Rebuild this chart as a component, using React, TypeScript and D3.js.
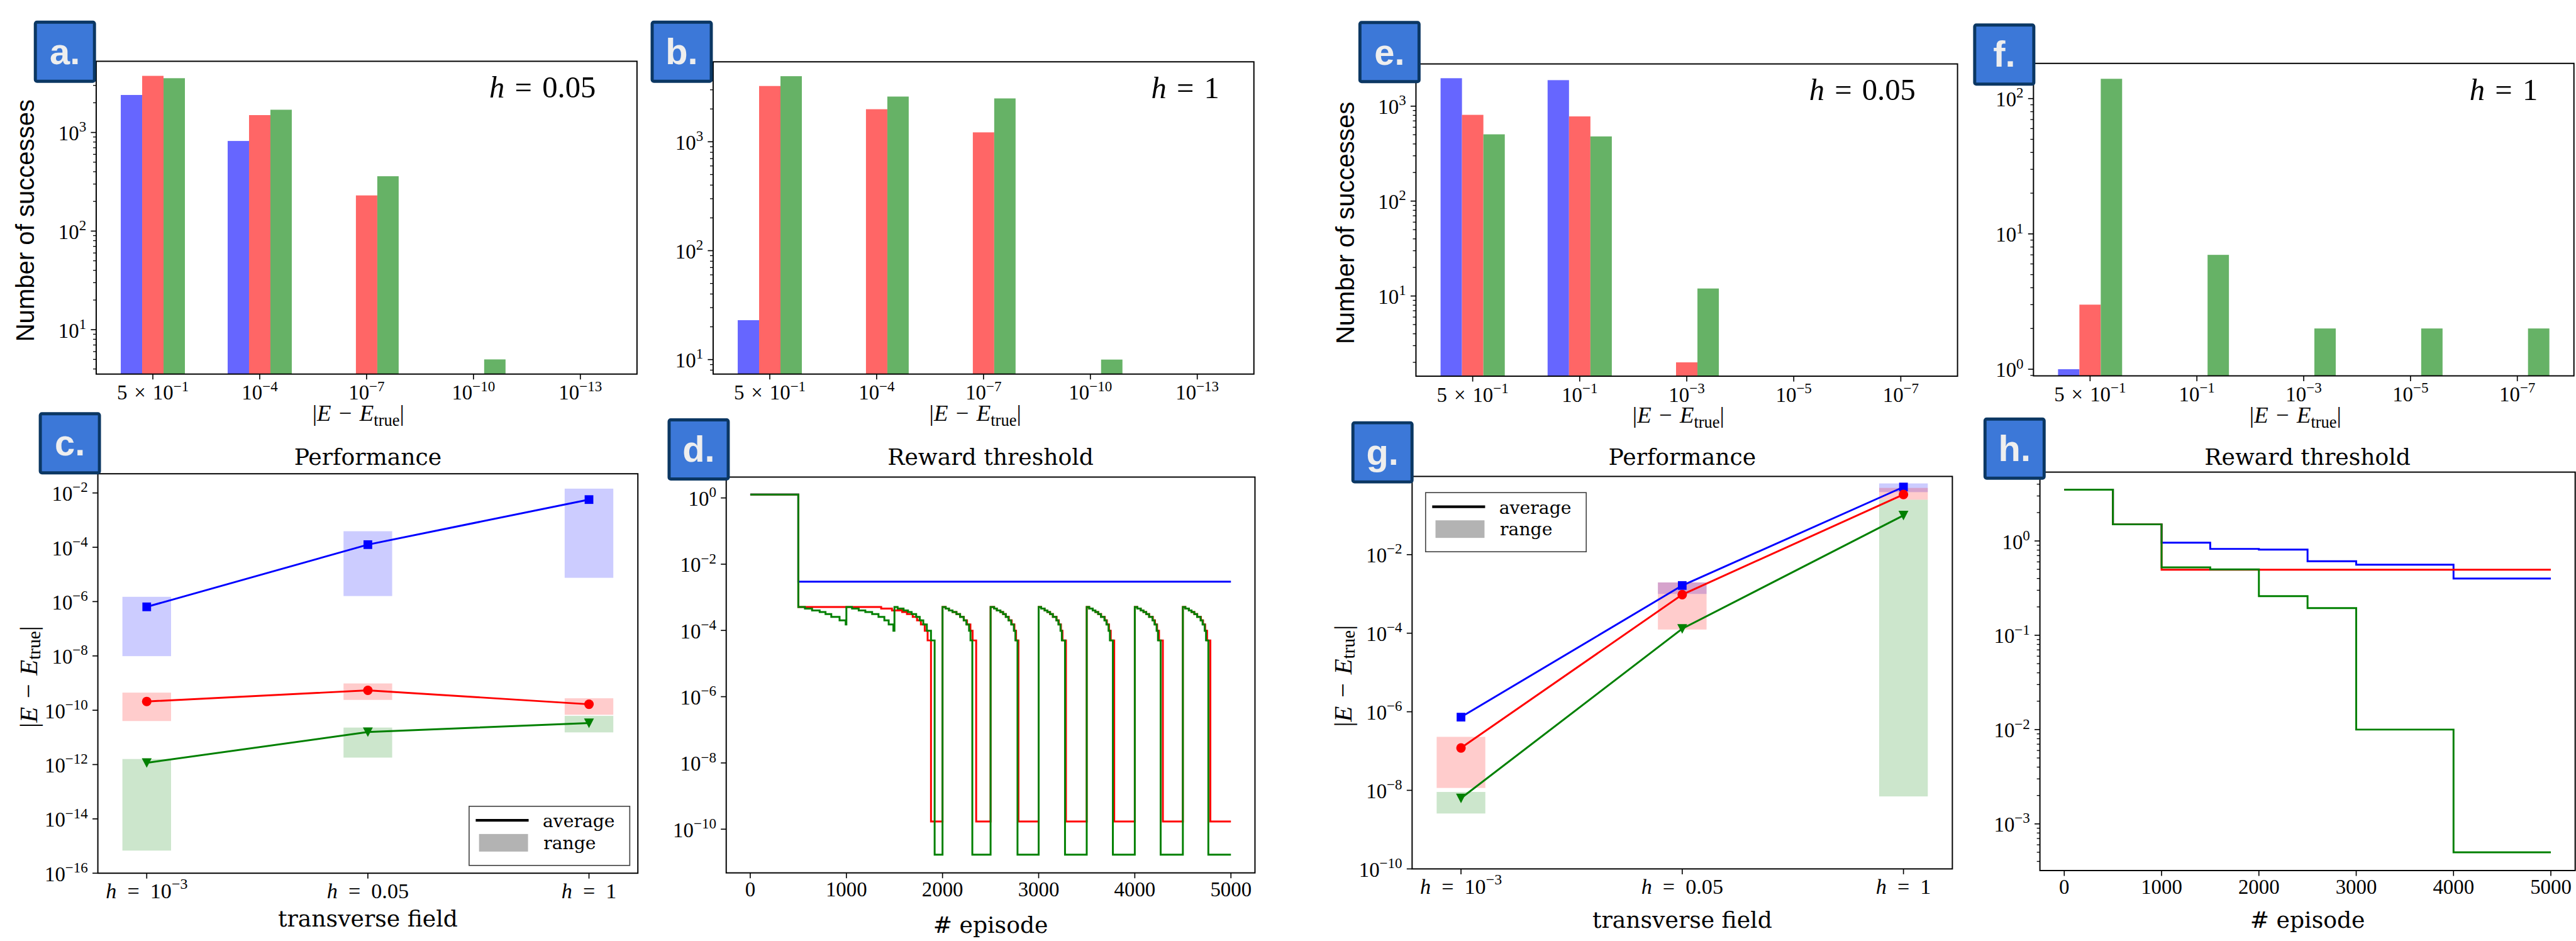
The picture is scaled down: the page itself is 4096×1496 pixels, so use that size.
import React from 'react';
import * as d3 from 'd3';

// ---------------- data ----------------
const histTickPrefixes = ['5\u2004×\u2004', '', '', '', ''];
const histExpsAB = ['−1', '−4', '−7', '−10', '−13'];
const histExpsEF = ['−1', '−1', '−3', '−5', '−7'];

const aBlue = [2400, 820, 0, 0, 0];
const aRed = [3750, 1500, 230, 0, 0];
const aGreen = [3550, 1700, 360, 5, 0];
const bBlue = [23, 0, 0, 0, 0];
const bRed = [3250, 1990, 1220, 0, 0];
const bGreen = [4000, 2600, 2500, 10, 0];
const eBlue = [1970, 1880, 0, 0, 0];
const eRed = [810, 780, 2, 0, 0];
const eGreen = [505, 480, 12, 0, 0];
const fBlue = [1, 0, 0, 0, 0];
const fRed = [3, 0, 0, 0, 0];
const fGreen = [140, 7, 2, 2, 2];

const perfTickBase = ['10', '0.05', '1'];
const perfTickExp = ['−3', '', ''];

const cBlueAvg = [6.4e-7, 1.25e-4, 5.7e-3];
const cBlueMin = [9.8e-9, 1.6e-6, 7.5e-6];
const cBlueMax = [1.5e-6, 3.9e-4, 1.44e-2];
const cRedAvg = [2.1e-10, 5.4e-10, 1.66e-10];
const cRedMin = [4.0e-11, 2.4e-10, 6.8e-11];
const cRedMax = [4.45e-10, 9.7e-10, 2.76e-10];
const cGreenAvg = [1.16e-12, 1.58e-11, 3.37e-11];
const cGreenMin = [6.8e-16, 1.8e-12, 1.53e-11];
const cGreenMax = [1.6e-12, 2.3e-11, 6.2e-11];

const gBlueAvg = [7.3e-7, 1.64e-3, 0.527];
const gBlueMin = [7.3e-7, 1.0e-3, 0.39];
const gBlueMax = [7.3e-7, 1.96e-3, 0.65];
const gRedAvg = [1.2e-7, 9.6e-4, 0.34];
const gRedMin = [1.15e-8, 1.24e-4, 0.25];
const gRedMax = [2.3e-7, 1.96e-3, 0.5];
const gGreenAvg = [6.3e-9, 1.3e-4, 0.1];
const gGreenMin = [2.57e-9, 1.3e-4, 7.0e-9];
const gGreenMax = [9.1e-9, 1.3e-4, 0.25];

const episodeTicks = [0, 1000, 2000, 3000, 4000, 5000];

const dBlue = [[0, 1.26], [500, 2.95e-3], [5000, 2.95e-3]];
const dRed = [
  [0, 1.26], [500, 5.12e-4], [1362, 4.56e-4], [1474, 4.02e-4], [1580, 3.58e-4], [1630, 3.13e-4], [1690, 2.56e-4], [1735, 2.02e-4], [1775, 1.51e-4], [1815, 9.8e-5], [1845, 5.0e-5], [1880, 1.7e-10],
  [2000, 5.12e-4], [2033, 4.56e-4], [2067, 4.02e-4], [2104, 3.58e-4], [2145, 3.13e-4], [2183, 2.56e-4], [2222, 2.02e-4], [2255, 1.51e-4], [2290, 9.8e-5], [2313, 5.0e-5], [2350, 1.7e-10],
  [2500, 5.12e-4], [2537, 4.56e-4], [2565, 4.02e-4], [2602, 3.58e-4], [2630, 3.13e-4], [2658, 2.56e-4], [2690, 2.02e-4], [2720, 1.51e-4], [2748, 9.8e-5], [2765, 5.0e-5], [2790, 1.7e-10],
  [3000, 5.12e-4], [3026, 4.56e-4], [3062, 4.02e-4], [3090, 3.58e-4], [3119, 3.13e-4], [3148, 2.56e-4], [3187, 2.02e-4], [3210, 1.51e-4], [3232, 9.8e-5], [3248, 5.0e-5], [3284, 1.7e-10],
  [3500, 5.12e-4], [3526, 4.56e-4], [3562, 4.02e-4], [3590, 3.58e-4], [3619, 3.13e-4], [3650, 2.56e-4], [3688, 2.02e-4], [3710, 1.51e-4], [3732, 9.8e-5], [3750, 5.0e-5], [3786, 1.7e-10],
  [4000, 5.12e-4], [4026, 4.56e-4], [4062, 4.02e-4], [4090, 3.58e-4], [4119, 3.13e-4], [4150, 2.56e-4], [4188, 2.02e-4], [4210, 1.51e-4], [4232, 9.8e-5], [4252, 5.0e-5], [4292, 1.7e-10],
  [4500, 5.12e-4], [4526, 4.56e-4], [4562, 4.02e-4], [4590, 3.58e-4], [4619, 3.13e-4], [4650, 2.56e-4], [4688, 2.02e-4], [4710, 1.51e-4], [4732, 9.8e-5], [4752, 5.0e-5], [4786, 1.7e-10],
  [5000, 1.7e-10],
];
const dGreen = [
  [0, 1.26], [500, 5.12e-4], [569, 4.56e-4], [643, 4.02e-4], [722, 3.58e-4], [783, 3.13e-4], [843, 2.56e-4], [929, 2.02e-4], [993, 1.51e-4],
  [1000, 5.12e-4], [1059, 4.56e-4], [1128, 4.02e-4], [1197, 3.58e-4], [1268, 3.13e-4], [1334, 2.56e-4], [1395, 2.02e-4], [1440, 1.51e-4], [1489, 9.8e-5],
  [1500, 5.12e-4], [1533, 4.56e-4], [1595, 4.02e-4], [1641, 3.58e-4], [1679, 3.13e-4], [1726, 2.56e-4], [1763, 2.02e-4], [1800, 1.51e-4], [1837, 9.8e-5], [1880, 5.0e-5], [1918, 1.7e-11],
  [2000, 5.12e-4], [2033, 4.56e-4], [2067, 4.02e-4], [2104, 3.58e-4], [2145, 3.13e-4], [2183, 2.56e-4], [2220, 2.02e-4], [2248, 1.51e-4], [2276, 9.8e-5], [2291, 5.0e-5], [2310, 1.7e-11],
  [2500, 5.12e-4], [2537, 4.56e-4], [2565, 4.02e-4], [2602, 3.58e-4], [2630, 3.13e-4], [2658, 2.56e-4], [2686, 2.02e-4], [2714, 1.51e-4], [2742, 9.8e-5], [2758, 5.0e-5], [2780, 1.7e-11],
  [3000, 5.12e-4], [3026, 4.56e-4], [3062, 4.02e-4], [3090, 3.58e-4], [3119, 3.13e-4], [3148, 2.56e-4], [3184, 2.02e-4], [3205, 1.51e-4], [3227, 9.8e-5], [3241, 5.0e-5], [3274, 1.7e-11],
  [3500, 5.12e-4], [3526, 4.56e-4], [3562, 4.02e-4], [3590, 3.58e-4], [3619, 3.13e-4], [3648, 2.56e-4], [3684, 2.02e-4], [3705, 1.51e-4], [3727, 9.8e-5], [3741, 5.0e-5], [3772, 1.7e-11],
  [4000, 5.12e-4], [4026, 4.56e-4], [4062, 4.02e-4], [4090, 3.58e-4], [4119, 3.13e-4], [4148, 2.56e-4], [4184, 2.02e-4], [4205, 1.51e-4], [4227, 9.8e-5], [4241, 5.0e-5], [4269, 1.7e-11],
  [4500, 5.12e-4], [4526, 4.56e-4], [4562, 4.02e-4], [4590, 3.58e-4], [4619, 3.13e-4], [4648, 2.56e-4], [4684, 2.02e-4], [4705, 1.51e-4], [4727, 9.8e-5], [4741, 5.0e-5], [4765, 1.7e-11],
  [5000, 1.7e-11],
];

const hBlue = [[0, 3.5], [500, 1.5], [1000, 0.96], [1500, 0.824], [2000, 0.81], [2500, 0.61], [3000, 0.56], [4000, 0.4], [5000, 0.4]];
const hRed = [[0, 3.5], [500, 1.5], [1000, 0.495], [5000, 0.495]];
const hGreen = [[0, 3.5], [500, 1.5], [1000, 0.525], [1500, 0.5], [2000, 0.26], [2500, 0.194], [3000, 0.01], [4000, 5.0e-4], [5000, 5.0e-4]];

const histColors = ['#6666ff', '#ff6666', '#66b266'];
const lineColors = ['#0000ff', '#ff0000', '#008000'];

// ---------------- styling ----------------
const SERIF = "'Liberation Serif', 'DejaVu Serif', serif";
const TSERIF = "'DejaVu Serif', serif";
const SANS = "'Liberation Sans', Arial, sans-serif";
const FS = 50;
const AXW = 3;

function expStr(k: number) {
  return k < 0 ? '−' + Math.abs(k) : String(k);
}

function Sup({ exp, fs }: any) {
  return exp ? <tspan dy={-0.42 * fs} fontSize={0.7 * fs}>{exp}</tspan> : null;
}

function EAbs({ fs }: any) {
  return (
    <>
      <tspan>|</tspan>
      <tspan fontStyle="italic">E</tspan>
      <tspan>{'\u2004−\u2004'}</tspan>
      <tspan fontStyle="italic">E</tspan>
      <tspan fontSize={0.72 * fs} dy={0.22 * fs}>true</tspan>
      <tspan dy={-0.22 * fs}>|</tspan>
    </>
  );
}

function LogY({ y, x0, majors, minors }: any) {
  return (
    <g>
      {minors.map((v: number, i: number) => (
        <line key={'m' + i} x1={x0 - 7.5} x2={x0} y1={y(v)} y2={y(v)} stroke="#000" strokeWidth={2} />
      ))}
      {majors.map((k: number) => (
        <g key={k}>
          <line x1={x0 - 13} x2={x0} y1={y(10 ** k)} y2={y(10 ** k)} stroke="#000" strokeWidth={2.5} />
          <text x={x0 - 24} y={y(10 ** k) + 0.38 * FS} textAnchor="end" fontFamily={SERIF} fontSize={FS}>
            10<Sup exp={expStr(k)} fs={FS} />
          </text>
        </g>
      ))}
    </g>
  );
}

function logTicks(ylim: number[], every: number, withMinor: boolean) {
  const lg0 = Math.log10(ylim[0]);
  const lg1 = Math.log10(ylim[1]);
  const majors = d3.range(Math.ceil(lg0), Math.floor(lg1) + 1).filter((k) => ((k % every) + every) % every === 0);
  const minors: number[] = [];
  if (withMinor) {
    for (let k = Math.floor(lg0); k <= Math.floor(lg1); k++) {
      for (let m = 2; m <= 9; m++) {
        const v = m * 10 ** k;
        if (v > ylim[0] && v < ylim[1]) minors.push(v);
      }
    }
  }
  return { majors, minors };
}

function Frame({ l, t, r, b }: any) {
  return <rect x={l} y={t} width={r - l} height={b - t} fill="none" stroke="#000" strokeWidth={AXW} />;
}

function Hist({ frame, ylim, series, exps, annot, annotFx, ylabel }: any) {
  const [l, t, r, b] = frame;
  const x = d3.scaleLinear().domain([-0.53, 4.53]).range([l, r]);
  const y = d3.scaleLog().domain(ylim).range([b, t]);
  const bw = 0.2 * (x(1) - x(0));
  const { majors, minors } = logTicks(ylim, 1, true);
  return (
    <g>
      {series.map((vals: number[], si: number) =>
        vals.map((v, i) =>
          v > 0 ? (
            <rect key={si + '-' + i} x={x(i) + (si - 1.5) * bw} y={y(v)} width={bw} height={b - y(v)} fill={histColors[si]} />
          ) : null
        )
      )}
      <Frame l={l} t={t} r={r} b={b} />
      {exps.map((e: string, i: number) => (
        <g key={i}>
          <line x1={x(i)} x2={x(i)} y1={b} y2={b + 13} stroke="#000" strokeWidth={2.5} />
          <text x={x(i)} y={b + 62} textAnchor="middle" fontFamily={SERIF} fontSize={FS}>
            {histTickPrefixes[i]}10<Sup exp={e} fs={FS} />
          </text>
        </g>
      ))}
      <LogY y={y} x0={l} majors={majors} minors={minors} />
      <text x={(l + r) / 2 - 20} y={b + 113} textAnchor="middle" fontFamily={SERIF} fontSize={56}>
        <EAbs fs={56} />
      </text>
      <text x={l + annotFx * (r - l)} y={t + 88} fontFamily={SERIF} fontSize={74}>
        <tspan fontStyle="italic">h</tspan>
        {'\u2004=\u2004' + annot}
      </text>
      {ylabel ? (
        <text
          transform={`translate(${l - 150},${(t + b) / 2 + 7}) rotate(-90)`}
          textAnchor="middle"
          fontFamily={SANS}
          fontSize={61}
        >
          Number of successes
        </text>
      ) : null}
    </g>
  );
}

function Perf({ frame, ylim, series, legendAt, xlabelY }: any) {
  const [l, t, r, b] = frame;
  const x = d3.scaleLinear().domain([-0.221, 2.221]).range([l, r]);
  const y = d3.scaleLog().domain(ylim).range([b, t]);
  const unit = x(1) - x(0);
  const { majors } = logTicks(ylim, 2, false);
  const line = d3
    .line<number>()
    .x((_d, i) => x(i))
    .y((d) => y(d));
  const [lx, ly] = legendAt;
  return (
    <g>
      {series.map((s: any, si: number) =>
        s.avg.map((_v: number, i: number) =>
          s.max[i] > s.min[i] ? (
            <rect
              key={si + '-' + i}
              x={x(i) - 0.11 * unit}
              width={0.22 * unit}
              y={y(s.max[i])}
              height={y(s.min[i]) - y(s.max[i])}
              fill={s.color}
              fillOpacity={0.2}
            />
          ) : null
        )
      )}
      {series.map((s: any, si: number) => (
        <g key={'l' + si}>
          <path d={line(s.avg) || ''} fill="none" stroke={s.color} strokeWidth={4.5} />
          {s.avg.map((v: number, i: number) => {
            const cx = x(i);
            const cy = y(v);
            if (s.marker === 'square') return <rect key={i} x={cx - 10.5} y={cy - 10.5} width={21} height={21} fill={s.color} />;
            if (s.marker === 'circle') return <circle key={i} cx={cx} cy={cy} r={11.5} fill={s.color} />;
            return <polygon key={i} points={`${cx},${cy + 12} ${cx - 12},${cy - 11} ${cx + 12},${cy - 11}`} fill={s.color} />;
          })}
        </g>
      ))}
      <Frame l={l} t={t} r={r} b={b} />
      {perfTickBase.map((base, i) => (
        <g key={i}>
          <line x1={x(i)} x2={x(i)} y1={b} y2={b + 13} stroke="#000" strokeWidth={2.5} />
          <text x={x(i)} y={b + 60} textAnchor="middle" fontFamily={SERIF} fontSize={52}>
            <tspan fontStyle="italic">h</tspan>
            {'\u2002=\u2002' + base}
            <Sup exp={perfTickExp[i]} fs={52} />
          </text>
        </g>
      ))}
      <LogY y={y} x0={l} majors={majors} minors={[]} />
      <text x={(l + r) / 2} y={1124} textAnchor="middle" fontFamily={TSERIF} fontSize={55}>Performance</text>
      <text x={(l + r) / 2} y={xlabelY} textAnchor="middle" fontFamily={TSERIF} fontSize={55}>transverse field</text>
      <text
        transform={`translate(${l - 168},${(t + b) / 2 + 8}) rotate(-90)`}
        textAnchor="middle"
        dominantBaseline="central"
        fontFamily={SERIF}
        fontSize={62}
      >
        <EAbs fs={62} />
      </text>
      <g>
        <rect x={lx} y={ly} width={388.6} height={143} fill="#fff" stroke="#444" strokeWidth={2.5} />
        <line x1={lx + 16} x2={lx + 144} y1={ly + 34} y2={ly + 34} stroke="#000" strokeWidth={6.5} />
        <rect x={lx + 24} y={ly + 67} width={118.5} height={42.5} fill="#b3b3b3" />
        <text x={lx + 178} y={ly + 51} fontFamily={TSERIF} fontSize={43}>average</text>
        <text x={lx + 180} y={ly + 103} fontFamily={TSERIF} fontSize={43}>range</text>
      </g>
    </g>
  );
}

function Steps({ frame, ylim, series, every, minor, xlabelY }: any) {
  const [l, t, r, b] = frame;
  const x = d3.scaleLinear().domain([-250, 5250]).range([l, r]);
  const y = d3.scaleLog().domain(ylim).range([b, t]);
  const { majors, minors } = logTicks(ylim, every, minor);
  const line = d3
    .line<number[]>()
    .x((d) => x(d[0]))
    .y((d) => y(d[1]))
    .curve(d3.curveStepAfter);
  return (
    <g>
      {series.map((s: number[][], si: number) => (
        <path key={si} d={line(s) || ''} fill="none" stroke={lineColors[si]} strokeWidth={4.5} strokeLinejoin="miter" />
      ))}
      <Frame l={l} t={t} r={r} b={b} />
      {episodeTicks.map((v) => (
        <g key={v}>
          <line x1={x(v)} x2={x(v)} y1={b} y2={b + 13} stroke="#000" strokeWidth={2.5} />
          <text x={x(v)} y={b + 57} textAnchor="middle" fontFamily={SERIF} fontSize={FS}>{v}</text>
        </g>
      ))}
      <LogY y={y} x0={l} majors={majors} minors={minors} />
      <text x={(l + r) / 2} y={1124} textAnchor="middle" fontFamily={TSERIF} fontSize={55}>Reward threshold</text>
      <text x={(l + r) / 2} y={xlabelY} textAnchor="middle" fontFamily={TSERIF} fontSize={55}># episode</text>
    </g>
  );
}

function LetterBox({ label, x, y }: any) {
  return (
    <g>
      <rect x={x + 3.5} y={y + 3.5} width={143} height={143} rx={4} fill="#3c78d8" stroke="#0b3763" strokeWidth={7.5} />
      <text x={x + 75} y={y + 105} textAnchor="middle" fontFamily={SANS} fontWeight="bold" fontSize={88} fill="#eeeeee">
        {label}
      </text>
    </g>
  );
}

export default function App() {
  const s = 4096 / 6231;
  const cSeries = [
    { avg: cBlueAvg, min: cBlueMin, max: cBlueMax, color: lineColors[0], marker: 'square' },
    { avg: cRedAvg, min: cRedMin, max: cRedMax, color: lineColors[1], marker: 'circle' },
    { avg: cGreenAvg, min: cGreenMin, max: cGreenMax, color: lineColors[2], marker: 'tri' },
  ];
  const gSeries = [
    { avg: gBlueAvg, min: gBlueMin, max: gBlueMax, color: lineColors[0], marker: 'square' },
    { avg: gRedAvg, min: gRedMin, max: gRedMax, color: lineColors[1], marker: 'circle' },
    { avg: gGreenAvg, min: gGreenMin, max: gGreenMax, color: lineColors[2], marker: 'tri' },
  ];
  return (
    <svg width={4096} height={1496} style={{ position: 'absolute', left: 0, top: 0, display: 'block' }}>
      <rect width={4096} height={1496} fill="#fff" />
      <g transform={`scale(${s})`}>
        <Hist frame={[232.7, 148.2, 1540.8, 904.7]} ylim={[3.55, 5270]} series={[aBlue, aRed, aGreen]} exps={histExpsAB} annot="0.05" annotFx={0.727} ylabel />
        <Hist frame={[1725, 149.5, 3033, 904.7]} ylim={[7.36, 5420]} series={[bBlue, bRed, bGreen]} exps={histExpsAB} annot="1" annotFx={0.81} ylabel={false} />
        <Hist frame={[3425, 154.6, 4735, 909.8]} ylim={[1.43, 2786]} series={[eBlue, eRed, eGreen]} exps={histExpsEF} annot="0.05" annotFx={0.726} ylabel />
        <Hist frame={[4918.7, 153.3, 6226, 909]} ylim={[0.893, 182]} series={[fBlue, fRed, fGreen]} exps={histExpsEF} annot="1" annotFx={0.807} ylabel={false} />

        <Perf frame={[236.7, 1145.8, 1542.9, 2111.8]} ylim={[1e-16, 0.0508]} series={cSeries} legendAt={[1134.7, 1950]} xlabelY={2241} />
        <Steps frame={[1756.6, 1153.8, 3035.6, 2111]} ylim={[4.8e-12, 4.26]} series={[dBlue, dRed, dGreen]} every={2} minor={false} xlabelY={2256} />
        <Perf frame={[3415.7, 1152.2, 4722.5, 2101.4]} ylim={[1e-10, 0.98]} series={gSeries} legendAt={[3448.3, 1191.4]} xlabelY={2244} />
        <Steps frame={[4934.3, 1141.8, 6229, 2105.4]} ylim={[3.2e-4, 5.37]} series={[hBlue, hRed, hGreen]} every={1} minor xlabelY={2244} />

        <LetterBox label="a." x={82} y={50} />
        <LetterBox label="b." x={1574} y={50} />
        <LetterBox label="e." x={3286} y={51} />
        <LetterBox label="f." x={4773} y={57} />
        <LetterBox label="c." x={94} y={997} />
        <LetterBox label="d." x={1615} y={1012} />
        <LetterBox label="g." x={3269} y={1019} />
        <LetterBox label="h." x={4798} y={1010} />
      </g>
    </svg>
  );
}
